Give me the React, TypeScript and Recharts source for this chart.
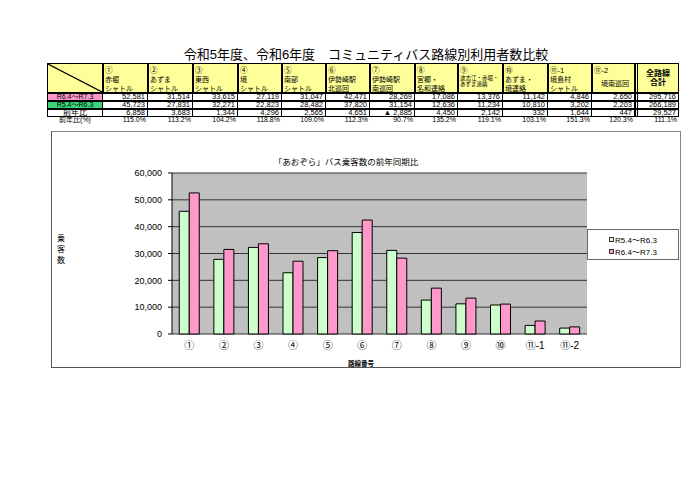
import React from "react";
import { Bar, BarChart, CartesianGrid, Legend, XAxis, YAxis } from "recharts";

const routes = ["①", "②", "③", "④", "⑤", "⑥", "⑦", "⑧", "⑨", "⑩", "⑪-1", "⑪-2"];
const routeNames = [
  ["赤堀", "シャトル"],
  ["あずま", "シャトル"],
  ["東西", "シャトル"],
  ["境", "シャトル"],
  ["南部", "シャトル"],
  ["伊勢崎駅", "北巡回"],
  ["伊勢崎駅", "南巡回"],
  ["宮郷・", "名和連絡"],
  ["波志江・赤堀・", "あずま連絡"],
  ["あずま・", "境連絡"],
  ["境島村", "シャトル"],
  ["", "境南巡回"],
];
const prevYear = [45723, 27831, 32271, 22823, 28482, 37820, 31154, 12636, 11234, 10810, 3202, 2203];
const thisYear = [52581, 31514, 33615, 27119, 31047, 42471, 28269, 17086, 13376, 11142, 4846, 2650];
const diffText = ["6,858", "3,683", "1,344", "4,296", "2,565", "4,651", "▲ 2,885", "4,450", "2,142", "332", "1,644", "447"];
const pctText = ["115.0%", "113.2%", "104.2%", "118.8%", "109.0%", "112.3%", "90.7%", "135.2%", "119.1%", "103.1%", "151.3%", "120.3%"];
const totalThis = "295,716";
const totalPrev = "266,189";
const totalDiff = "29,527";
const totalPct = "111.1%";
const yTicks = [0, 10000, 20000, 30000, 40000, 50000, 60000];
const edgeTicks = [0, 1, 2, 3, 4, 5, 6, 7, 8, 9, 10, 11, 12];

const labelPrev = "R5.4～R6.3";
const labelThis = "R6.4～R7.3";

const chartData = routes.map((r, i) => ({ route: r, prev: prevYear[i], cur: thisYear[i] }));

const FONT = '"Liberation Sans", "Noto Sans CJK JP", sans-serif';
const GREEN = "#ccffcc";
const PINK = "#ff99cc";

// table column edges (px)
const colEdges = [47, 103, 148, 193, 238, 282, 326, 370, 415, 458, 503, 548, 592, 635, 679];
const rowTop = { head: 63, cur: 93, prev: 101, diff: 109, pct: 117, end: 125 };

const fmt = (v: number) => v.toLocaleString("en-US");

function Cell({
  x0,
  x1,
  y0,
  y1,
  bg,
  border,
  align = "right",
  children,
  style,
}: {
  x0: number;
  x1: number;
  y0: number;
  y1: number;
  bg?: string;
  border?: string;
  align?: "left" | "right" | "center";
  children?: React.ReactNode;
  style?: React.CSSProperties;
}) {
  return (
    <div
      style={{
        position: "absolute",
        left: x0,
        top: y0,
        width: x1 - x0,
        height: y1 - y0,
        boxSizing: "border-box",
        background: bg,
        border,
        textAlign: align,
        fontSize: 7.5,
        lineHeight: `${y1 - y0 - 2}px`,
        paddingRight: align === "right" ? 2 : 0,
        whiteSpace: "nowrap",
        overflow: "hidden",
        ...style,
      }}
    >
      {children}
    </div>
  );
}

function Table() {
  const n = routes.length;
  const cells: React.ReactNode[] = [];
  // header row
  cells.push(
    <Cell key="corner" x0={colEdges[0]} x1={colEdges[1]} y0={rowTop.head} y1={rowTop.cur} bg="#ffff99" border="1px solid #000">
      <svg width={colEdges[1] - colEdges[0] - 2} height={rowTop.cur - rowTop.head - 2} style={{ position: "absolute", left: 0, top: 0 }}>
        <line x1={0} y1={0} x2={colEdges[1] - colEdges[0] - 2} y2={rowTop.cur - rowTop.head - 2} stroke="#000" strokeWidth={1.2} />
      </svg>
    </Cell>
  );
  for (let i = 0; i < n; i++) {
    const small = routeNames[i][0].length > 5;
    cells.push(
      <Cell key={`h${i}`} x0={colEdges[i + 1]} x1={colEdges[i + 2]} y0={rowTop.head} y1={rowTop.cur} bg="#ffff99" border="1px solid #000" align="left" style={{ lineHeight: "normal", paddingLeft: 1 }}>
        <div style={{ position: "absolute", left: 1, top: 0, fontSize: 7.5 }}>{routes[i]}</div>
        {routeNames[i][0] === "" ? (
          <div style={{ position: "absolute", left: 8, top: 14, fontSize: 7 }}>{routeNames[i][1]}</div>
        ) : small ? (
          <>
            <div style={{ position: "absolute", left: 1, top: 10, fontSize: 5.5 }}>{routeNames[i][0]}</div>
            <div style={{ position: "absolute", left: 1, top: 16, fontSize: 5.5 }}>{routeNames[i][1]}</div>
          </>
        ) : (
          <>
            <div style={{ position: "absolute", left: 1, top: 10, fontSize: 7 }}>{routeNames[i][0]}</div>
            <div style={{ position: "absolute", left: 1, top: 19, fontSize: 7 }}>{routeNames[i][1]}</div>
          </>
        )}
      </Cell>
    );
  }
  cells.push(
    <Cell key="htot" x0={colEdges[n + 1]} x1={colEdges[n + 2]} y0={rowTop.head} y1={rowTop.cur} bg="#ffff99" border="1px solid #000" align="center" style={{ borderLeft: "3px double #000", lineHeight: "9px", paddingTop: 5, fontWeight: 700, fontSize: 8 }}>
      全路線
      <br />
      合計
    </Cell>
  );

  const rows: { key: string; y0: number; y1: number; label: string; labelBg?: string; vals: string[]; total: string; boxed: boolean; ruled: boolean }[] = [
    { key: "c", y0: rowTop.cur, y1: rowTop.prev, label: labelThis, labelBg: PINK, vals: thisYear.map(fmt), total: totalThis, boxed: false, ruled: true },
    { key: "p", y0: rowTop.prev, y1: rowTop.diff, label: labelPrev, labelBg: "#3ad67a", vals: prevYear.map(fmt), total: totalPrev, boxed: false, ruled: true },
    { key: "d", y0: rowTop.diff, y1: rowTop.pct, label: "前年比", vals: diffText, total: totalDiff, boxed: true, ruled: true },
    { key: "r", y0: rowTop.pct, y1: rowTop.end, label: "前年比(%)", vals: pctText, total: totalPct, boxed: false, ruled: false },
  ];
  for (const r of rows) {
    const b = r.ruled ? "1px solid #000" : undefined;
    cells.push(
      <Cell key={`${r.key}l`} x0={colEdges[0]} x1={colEdges[1]} y0={r.y0} y1={r.y1} bg={r.labelBg} border={b} align="center" style={{ fontSize: r.key === "d" ? 8 : 7, borderWidth: r.key === "d" ? 1.5 : 1 }}>
        {r.label}
      </Cell>
    );
    for (let i = 0; i <= n; i++) {
      cells.push(
        <Cell
          key={`${r.key}${i}`}
          x0={colEdges[i + 1]}
          x1={colEdges[i + 2]}
          y0={r.y0}
          y1={r.y1}
          border={b}
          style={{
            borderWidth: r.boxed ? 1.5 : 1,
            borderLeft: i === n && r.ruled ? "3px double #000" : undefined,
            fontSize: r.key === "r" ? 7 : 7.5,
          }}
        >
          {i < n ? r.vals[i] : r.total}
        </Cell>
      );
    }
  }
  return <>{cells}</>;
}

function LegendBox() {
  const items = [
    { label: labelPrev, color: GREEN },
    { label: labelThis, color: PINK },
  ];
  return (
    <div style={{ width: 92, height: 31, boxSizing: "border-box", border: "1px solid #666", background: "#fff", paddingTop: 3 }}>
      {items.map((it) => (
        <div key={it.label} style={{ display: "flex", alignItems: "center", justifyContent: "center", height: 12, fontSize: 8, color: "#000" }}>
          <span style={{ width: 3, height: 3, border: "1px solid #333", background: it.color, marginRight: 1 }} />
          {it.label}
        </div>
      ))}
    </div>
  );
}

export default function App() {
  return (
    <div style={{ position: "absolute", left: 0, top: 0, width: 700, height: 495, background: "#fff", fontFamily: FONT, color: "#000" }}>
      <div style={{ position: "absolute", left: 0, top: 44, width: 732, textAlign: "center", fontSize: 13 }}>
        令和5年度、令和6年度　コミュニティバス路線別利用者数比較
      </div>
      <Table />
      <div style={{ position: "absolute", left: 51, top: 131, width: 630, height: 237, boxSizing: "border-box", border: "1px solid #888", borderLeftColor: "#555", borderBottomColor: "#555" }}>
        <div style={{ position: "absolute", left: 219, top: 23, width: 150, textAlign: "center", fontSize: 8.5 }}>「あおぞら」バス乗客数の前年同期比</div>
        <div style={{ position: "absolute", left: 5, top: 101, fontSize: 8, lineHeight: "11px", textAlign: "center" }}>
          乗<br />客<br />数
        </div>
        <div style={{ position: "absolute", left: 296, top: 226, fontSize: 6.5, fontWeight: 700 }}>路線番号</div>
        <div style={{ position: "absolute", left: -1, top: -1 }}>
          <BarChart
            width={630}
            height={237}
            data={chartData}
            margin={{ top: 42, right: 94, bottom: 14, left: 61 }}
            barCategoryGap="21%"
            barGap={0}
          >
            <CartesianGrid fill="#c0c0c0" stroke="#333" vertical={false} />
            <XAxis
              xAxisId="edge"
              type="number"
              domain={[0, 12]}
              ticks={edgeTicks}
              tick={false}
              tickSize={3}
              height={0}
              stroke="#000"
              allowDataOverflow
            />
            <XAxis
              dataKey="route"
              axisLine={false}
              tickLine={false}
              height={20}
              interval={0}
              tick={{ fontSize: 10, fill: "#000" }}
            />
            <YAxis
              domain={[0, 60000]}
              ticks={yTicks}
              width={60}
              tickSize={4}
              tickMargin={6}
              stroke="#000"
              tick={{ fontSize: 9, fill: "#000" }}
              tickFormatter={(v: number) => fmt(v)}
            />
            <Bar dataKey="prev" name={labelPrev} fill={GREEN} stroke="#000" strokeWidth={1} isAnimationActive={false} />
            <Bar dataKey="cur" name={labelThis} fill={PINK} stroke="#000" strokeWidth={1} isAnimationActive={false} />
            <Legend
              layout="horizontal"
              verticalAlign="middle"
              align="center"
              wrapperStyle={{ left: 536, top: 98, width: 92, height: 31 }}
              content={() => <LegendBox />}
            />
          </BarChart>
        </div>
      </div>
    </div>
  );
}
